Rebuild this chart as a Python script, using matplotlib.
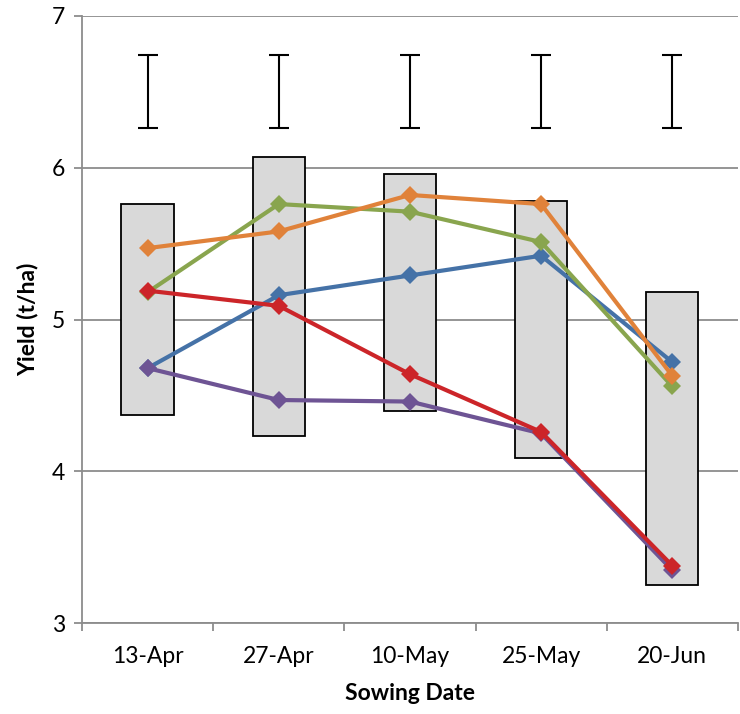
import numpy as np
import matplotlib
matplotlib.use("Agg")
import matplotlib.pyplot as plt

plt.rcParams['font.family'] = ['Lato', 'DejaVu Sans']

dates = ["13-Apr", "27-Apr", "10-May", "25-May", "20-Jun"]

# floating range boxes (low, high)
box_low = [4.37, 4.23, 4.40, 4.09, 3.25]
box_high = [5.76, 6.07, 5.96, 5.78, 5.18]

# LSD-style error bar drawn above each date
err_centre = [6.50, 6.50, 6.50, 6.50, 6.50]
err_half = [0.24, 0.24, 0.24, 0.24, 0.24]

blue = [4.68, 5.16, 5.29, 5.42, 4.72]
green = [5.18, 5.76, 5.71, 5.51, 4.56]
orange = [5.47, 5.58, 5.82, 5.76, 4.63]
purple = [4.68, 4.47, 4.46, 4.25, 3.35]
red = [5.19, 5.09, 4.64, 4.26, 3.38]

series = [
    (blue, "#4572A7"),
    (green, "#89A54E"),
    (orange, "#E0823A"),
    (purple, "#6E5494"),
    (red, "#CC2529"),
]

fig = plt.figure(figsize=(7.4, 7.14), dpi=100)
ax = fig.add_axes([0.111, 0.127, 0.886, 0.851])

x = np.arange(len(dates))

ax.bar(x, np.array(box_high) - np.array(box_low), bottom=box_low, width=0.4,
       color="#D9D9D9", edgecolor="black", linewidth=1.3, zorder=2)

ax.errorbar(x, err_centre, yerr=err_half, fmt="none", ecolor="black",
            elinewidth=1.5, capsize=7, capthick=1.5, zorder=3)

for vals, col in series:
    ax.plot(x, vals, color=col, linewidth=3, marker="D", markersize=9.5,
            markeredgewidth=0, zorder=4)

ax.set_xlim(-0.5, 4.5)
ax.set_ylim(3, 7)
ax.set_yticks([3, 4, 5, 6, 7])
ax.set_xticks(x)
ax.set_xticklabels(dates)
ax.set_xticks(np.arange(-0.5, 5.0, 1.0), minor=True)

ax.yaxis.grid(True, color="#8C8C8C", linewidth=1.3, zorder=0)
ax.set_axisbelow(True)

for side in ["top", "right"]:
    ax.spines[side].set_visible(False)
for side in ["left", "bottom"]:
    ax.spines[side].set_color("#8C8C8C")
    ax.spines[side].set_linewidth(1.3)

ax.tick_params(axis="x", which="major", length=0, labelsize=16.5, pad=16)
ax.tick_params(axis="x", which="minor", length=6, color="#8C8C8C", width=1.3)
ax.tick_params(axis="y", length=6, color="#8C8C8C", width=1.3, labelsize=16.5, pad=6)

ax.set_xlabel("Sowing Date", fontsize=16.5, fontweight="bold", labelpad=12)
ax.set_ylabel("Yield (t/ha)", fontsize=16.5, fontweight="bold", labelpad=10)

fig.savefig("out.png", dpi=100)
